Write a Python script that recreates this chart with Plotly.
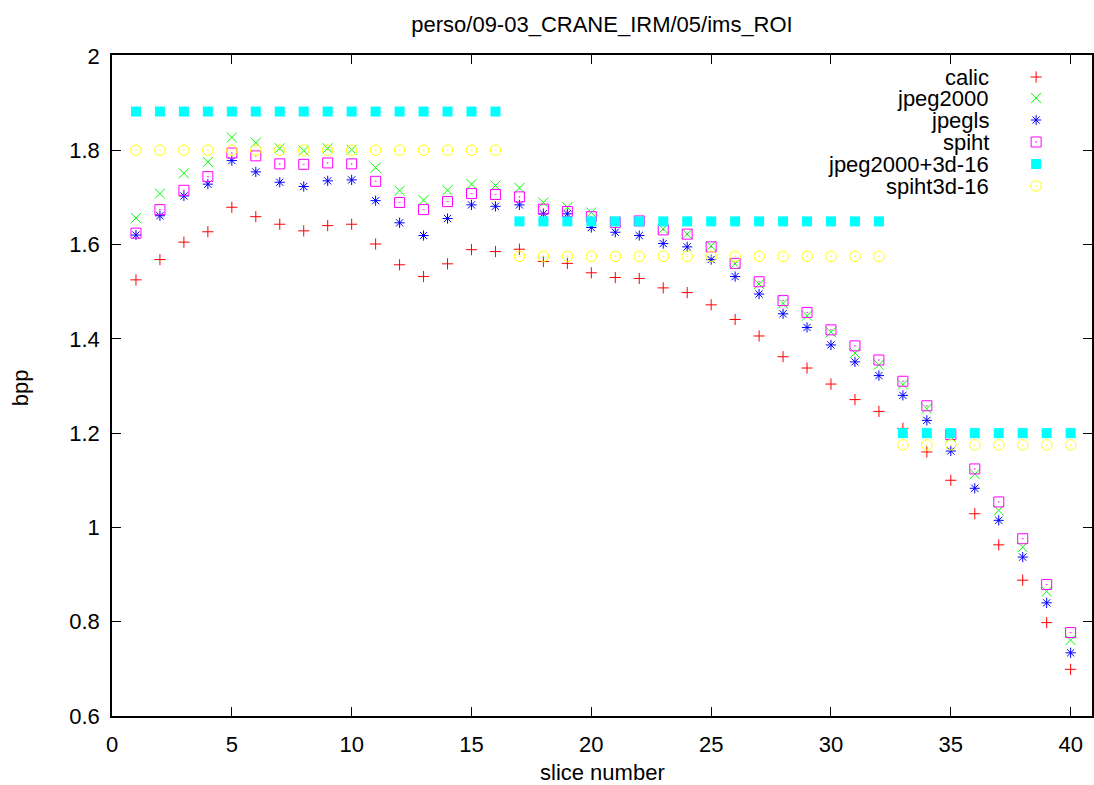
import plotly.graph_objects as go

# ---------------- data ----------------
slices = list(range(1, 41))

calic = [1.525, 1.568, 1.605, 1.627, 1.679, 1.659, 1.643, 1.629, 1.640, 1.643,
         1.601, 1.557, 1.532, 1.559, 1.589, 1.585, 1.590, 1.564, 1.560, 1.540,
         1.530, 1.528, 1.508, 1.498, 1.472, 1.441, 1.406, 1.362, 1.338, 1.304,
         1.271, 1.246, 1.210, 1.160, 1.100, 1.029, 0.963, 0.888, 0.798, 0.699]

jpeg2000 = [1.656, 1.708, 1.751, 1.775, 1.827, 1.816, 1.804, 1.799, 1.804, 1.801,
            1.763, 1.714, 1.694, 1.715, 1.728, 1.725, 1.720, 1.689, 1.679, 1.668,
            1.650, 1.650, 1.633, 1.622, 1.597, 1.559, 1.516, 1.475, 1.449, 1.414,
            1.370, 1.345, 1.303, 1.252, 1.192, 1.113, 1.036, 0.958, 0.864, 0.761]

jpegls = [1.620, 1.661, 1.703, 1.728, 1.778, 1.754, 1.732, 1.723, 1.735, 1.737,
          1.693, 1.646, 1.619, 1.655, 1.684, 1.681, 1.684, 1.665, 1.665, 1.636,
          1.626, 1.619, 1.602, 1.595, 1.568, 1.532, 1.495, 1.453, 1.424, 1.387,
          1.351, 1.322, 1.280, 1.227, 1.162, 1.083, 1.015, 0.937, 0.840, 0.734]

spiht = [1.624, 1.674, 1.715, 1.744, 1.794, 1.788, 1.771, 1.770, 1.773, 1.771,
         1.734, 1.689, 1.674, 1.691, 1.708, 1.706, 1.701, 1.675, 1.670, 1.659,
         1.647, 1.650, 1.631, 1.622, 1.595, 1.560, 1.521, 1.481, 1.456, 1.419,
         1.385, 1.355, 1.310, 1.258, 1.197, 1.124, 1.054, 0.976, 0.879, 0.777]

jpeg2000_3d16 = [1.882, 1.882, 1.882, 1.882, 1.882, 1.882, 1.882, 1.882, 1.882, 1.882,
                 1.882, 1.882, 1.882, 1.882, 1.882, 1.882, 1.649, 1.649, 1.649, 1.649,
                 1.649, 1.649, 1.649, 1.649, 1.649, 1.649, 1.649, 1.649, 1.649, 1.649,
                 1.649, 1.649, 1.200, 1.200, 1.200, 1.200, 1.200, 1.200, 1.200, 1.200]

spiht3d16 = [1.800, 1.800, 1.800, 1.800, 1.800, 1.800, 1.800, 1.800, 1.800, 1.800,
             1.800, 1.800, 1.800, 1.800, 1.800, 1.800, 1.575, 1.575, 1.575, 1.575,
             1.575, 1.575, 1.575, 1.575, 1.575, 1.575, 1.575, 1.575, 1.575, 1.575,
             1.575, 1.575, 1.175, 1.175, 1.175, 1.175, 1.175, 1.175, 1.175, 1.175]

series_names = ["calic", "jpeg2000", "jpegls", "spiht", "jpeg2000+3d-16", "spiht3d-16"]
series_values = [calic, jpeg2000, jpegls, spiht, jpeg2000_3d16, spiht3d16]

x_ticks = [0, 5, 10, 15, 20, 25, 30, 35, 40]
y_ticks = [0.6, 0.8, 1.0, 1.2, 1.4, 1.6, 1.8, 2.0]
y_tick_labels = ["0.6", "0.8", "1", "1.2", "1.4", "1.6", "1.8", "2"]

title_text = "perso/09-03_CRANE_IRM/05/ims_ROI"
x_label = "slice number"
y_label = "bpp"

# ---------------- style ----------------
W, H = 1094, 785
L, R, T, B = 112, 0, 55, 69
FONT = "Liberation Sans, Arial, Helvetica, sans-serif"
FS = 22

styles = [
    dict(symbol="cross-thin", size=8, color="#ff0000", line=dict(color="#ff0000", width=1)),
    dict(symbol="x-thin", size=10, color="#00ff00", line=dict(color="#00ff00", width=1)),
    dict(symbol="asterisk", size=8.5, color="#0000ff", line=dict(color="#0000ff", width=1)),
    dict(symbol="square-open-dot", size=10, color="#ff00ff", line=dict(color="#ff00ff", width=1)),
    dict(symbol="square", size=10, color="#00ffff", line=dict(color="#00ffff", width=0)),
    dict(symbol="circle-open-dot", size=10.5, color="#ffff00", line=dict(color="#ffff00", width=1)),
]

fig = go.Figure()
for name, vals, st in zip(series_names, series_values, styles):
    fig.add_trace(go.Scatter(x=slices, y=vals, mode="markers", name=name,
                             marker=st, showlegend=False, cliponaxis=False))

# manual gnuplot-style key (text right-aligned, sample to the right)
plot_w = W - L - R
plot_h = H - T - B
key_text_x = 993
key_sample_x = 1038
key_rows = [77, 98, 120, 142, 164, 186]
for name, st, ry in zip(series_names, styles, key_rows):
    fig.add_trace(go.Scatter(x=[key_sample_x], y=[ry], mode="markers", marker=st,
                             xaxis="x2", yaxis="y2", showlegend=False, hoverinfo="skip"))
    fig.add_annotation(x=key_text_x, y=ry, xref="x2", yref="y2", text=name,
                       showarrow=False, xanchor="right", yanchor="middle",
                       font=dict(family=FONT, size=FS, color="black"))

axis_common = dict(showline=True, linecolor="black", linewidth=1.5, mirror="allticks",
                   ticks="inside", ticklen=9, tickwidth=1, tickcolor="black",
                   showgrid=False, zeroline=False,
                   tickfont=dict(family=FONT, size=FS, color="black"))

fig.update_layout(
    width=W, height=H,
    margin=dict(l=L, r=R, t=T, b=B, pad=0),
    paper_bgcolor="white", plot_bgcolor="white",
    title=dict(text=title_text, x=0.5, xref="paper", xanchor="center",
               y=1 - 24 / H, yref="container", yanchor="middle",
               font=dict(family=FONT, size=FS, color="black")),
    xaxis=dict(range=[0, (W - R - L) / 24.015], tickvals=x_ticks,
               ticklabelstandoff=8, **axis_common),
    yaxis=dict(range=[0.6, 0.6 + plot_h / 471.5], tickvals=y_ticks, ticktext=y_tick_labels,
               ticklabelstandoff=6, **axis_common),
    xaxis2=dict(range=[L, W - R], overlaying="x", visible=False, fixedrange=True),
    yaxis2=dict(range=[H - B, T], overlaying="y", visible=False, fixedrange=True),
    showlegend=False,
)

fig.add_annotation(x=0.5, y=-(772 - (H - B)) / plot_h, xref="paper", yref="paper",
                   text=x_label, showarrow=False, xanchor="center", yanchor="middle",
                   font=dict(family=FONT, size=FS, color="black"))
fig.add_annotation(x=-(L - 20) / plot_w, y=(H - B - 388) / plot_h, xref="paper", yref="paper",
                   text=y_label, showarrow=False, textangle=-90, xanchor="center", yanchor="middle",
                   font=dict(family=FONT, size=FS, color="black"))

fig.write_html("out.html", config={"displayModeBar": False},
               post_script="document.body.style.margin='0';document.body.style.overflow='hidden';")
